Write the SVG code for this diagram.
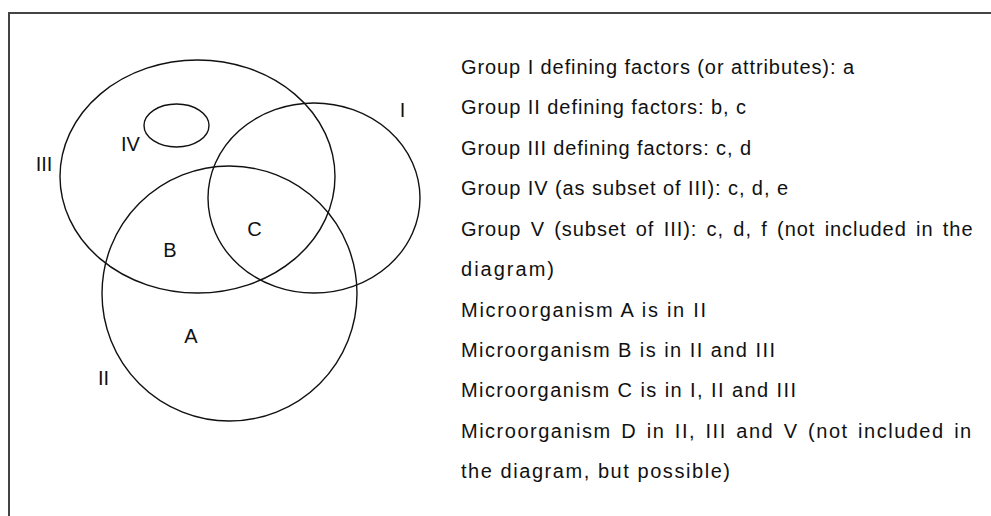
<svg xmlns="http://www.w3.org/2000/svg" width="991" height="516" viewBox="0 0 991 516">
<style>
.c{fill:none;stroke:#111;stroke-width:1.4}
.lbl{font-family:"Liberation Sans",Arial,sans-serif;font-size:20px;fill:#111;text-anchor:middle}
.t{font-family:"Liberation Sans",Arial,sans-serif;font-size:20px;fill:#111}
</style>
<rect width="991" height="516" fill="#fff"/>
<path d="M9,516 V13 H991" fill="none" stroke="#444" stroke-width="2"/>
<g id="venn">
<g id="set-III"><ellipse class="c" cx="197.5" cy="176.5" rx="137.5" ry="116.5"/><text class="lbl" x="44" y="171">III</text></g>
<g id="set-I"><ellipse class="c" cx="314" cy="198" rx="106" ry="95"/><text class="lbl" x="402.5" y="117">I</text></g>
<g id="set-II"><circle class="c" cx="229.5" cy="293.5" r="127.5"/><text class="lbl" x="103.5" y="385">II</text></g>
<g id="set-IV"><ellipse class="c" cx="176.5" cy="125.5" rx="32.5" ry="21.5"/><text class="lbl" x="130.5" y="151">IV</text></g>
<g id="org-A"><text class="lbl" x="191" y="343">A</text></g>
<g id="org-B"><text class="lbl" x="170" y="257">B</text></g>
<g id="org-C"><text class="lbl" x="254.5" y="236">C</text></g>
</g>
<g id="connectors"></g>
<g id="legend">
<text class="t" x="461" y="74" textLength="393" lengthAdjust="spacing">Group I defining factors (or attributes): a</text>
<text class="t" x="461" y="114" textLength="285" lengthAdjust="spacing">Group II defining factors: b, c</text>
<text class="t" x="461" y="155" textLength="290" lengthAdjust="spacing">Group III defining factors: c, d</text>
<text class="t" x="461" y="195" textLength="327" lengthAdjust="spacing">Group IV (as subset of III): c, d, e</text>
<text class="t" x="461" y="236" letter-spacing="0.95" word-spacing="2.8">Group V (subset of III): c, d, f (not included in the</text>
<text class="t" x="461" y="276" textLength="93" lengthAdjust="spacing">diagram)</text>
<text class="t" x="461" y="317" textLength="245" lengthAdjust="spacing">Microorganism A is in II</text>
<text class="t" x="461" y="357" textLength="314" lengthAdjust="spacing">Microorganism B is in II and III</text>
<text class="t" x="461" y="397" textLength="335" lengthAdjust="spacing">Microorganism C is in I, II and III</text>
<text class="t" x="461" y="438" letter-spacing="1.5" word-spacing="2.5">Microorganism D in II, III and V (not included in</text>
<text class="t" x="461" y="478" textLength="269" lengthAdjust="spacing">the diagram, but possible)</text>
</g>
</svg>
